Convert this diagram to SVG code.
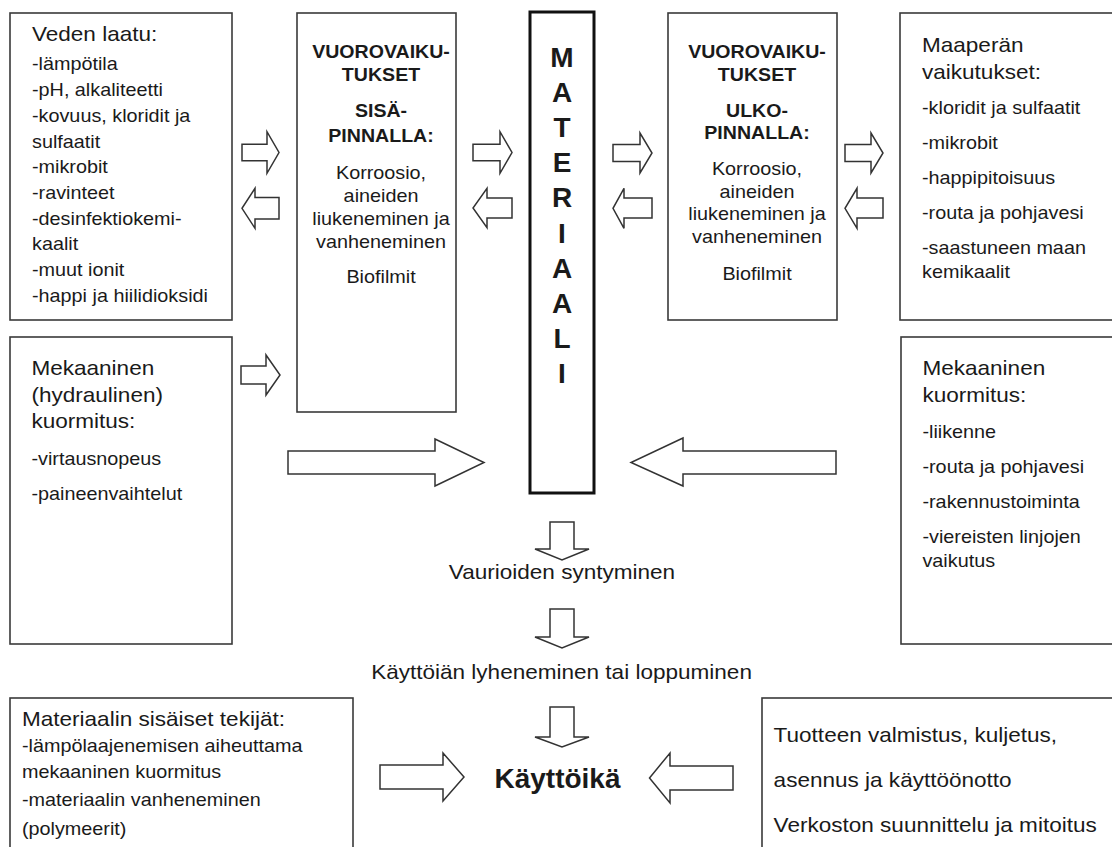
<svg xmlns="http://www.w3.org/2000/svg" width="1112" height="847" viewBox="0 0 1112 847">
<style>
.box{fill:#fff;stroke:#3a3a3a;stroke-width:1.6}
.mat{fill:#fff;stroke:#111;stroke-width:3}
.arr{fill:#fff;stroke:#333;stroke-width:1.5;stroke-linejoin:miter}
text{font-family:"Liberation Sans",Arial,sans-serif;fill:#1a1a1a}
.h{font-size:20.5px}
.l{font-size:18px}
.b{font-size:17.8px;font-weight:bold}
.c{text-anchor:middle}
.big{font-size:28px;font-weight:bold;text-anchor:middle}
</style>
<rect width="1112" height="847" fill="#fff"/>

<g id="veden-laatu">
<rect class="box" x="10" y="13" width="222" height="307"/>
<g transform="scale(1.1 1)">
<text class="h" x="29.1" y="41">Veden laatu:</text>
<text class="l" x="29.1" y="70.5">-lämpötila</text>
<text class="l" x="29.1" y="96.2">-pH, alkaliteetti</text>
<text class="l" x="29.1" y="121.9">-kovuus, kloridit ja</text>
<text class="l" x="29.1" y="147.6">sulfaatit</text>
<text class="l" x="29.1" y="173.3">-mikrobit</text>
<text class="l" x="29.1" y="199">-ravinteet</text>
<text class="l" x="29.1" y="224.7">-desinfektiokemi-</text>
<text class="l" x="29.1" y="250.4">kaalit</text>
<text class="l" x="29.1" y="276.1">-muut ionit</text>
<text class="l" x="29.1" y="301.8">-happi ja hiilidioksidi</text>
</g>
</g>

<g id="vuorovaikutukset-sisa">
<rect class="box" x="297" y="13" width="159" height="399"/>
<g transform="scale(1.1 1)">
<text class="b c" x="346.4" y="58">VUOROVAIKU-</text>
<text class="b c" x="346.4" y="81">TUKSET</text>
<text class="b c" x="346.4" y="117">SISÄ-</text>
<text class="b c" x="346.4" y="142">PINNALLA:</text>
<text class="l c" x="346.4" y="179">Korroosio,</text>
<text class="l c" x="346.4" y="202">aineiden</text>
<text class="l c" x="346.4" y="225">liukeneminen ja</text>
<text class="l c" x="346.4" y="248">vanheneminen</text>
<text class="l c" x="346.4" y="283">Biofilmit</text>
</g>
</g>

<g id="materiaali">
<rect class="mat" x="530" y="12" width="64" height="481"/>
<text class="big" x="562" y="67">M</text>
<text class="big" x="562" y="102">A</text>
<text class="big" x="562" y="137">T</text>
<text class="big" x="562" y="172">E</text>
<text class="big" x="562" y="207">R</text>
<text class="big" x="562" y="243">I</text>
<text class="big" x="562" y="278">A</text>
<text class="big" x="562" y="313">A</text>
<text class="big" x="562" y="348">L</text>
<text class="big" x="562" y="383">I</text>
</g>

<g id="vuorovaikutukset-ulko">
<rect class="box" x="668" y="13" width="169" height="307"/>
<g transform="scale(1.1 1)">
<text class="b c" x="688.2" y="58">VUOROVAIKU-</text>
<text class="b c" x="688.2" y="81">TUKSET</text>
<text class="b c" x="688.2" y="117">ULKO-</text>
<text class="b c" x="688.2" y="139">PINNALLA:</text>
<text class="l c" x="688.2" y="175">Korroosio,</text>
<text class="l c" x="688.2" y="198">aineiden</text>
<text class="l c" x="688.2" y="220">liukeneminen ja</text>
<text class="l c" x="688.2" y="243">vanheneminen</text>
<text class="l c" x="688.2" y="280">Biofilmit</text>
</g>
</g>

<g id="maaperan-vaikutukset">
<rect class="box" x="900" y="13" width="215" height="307"/>
<g transform="scale(1.1 1)">
<text class="h" x="838.2" y="52">Maaperän</text>
<text class="h" x="838.2" y="79">vaikutukset:</text>
<text class="l" x="838.2" y="114">-kloridit ja sulfaatit</text>
<text class="l" x="838.2" y="149">-mikrobit</text>
<text class="l" x="838.2" y="184">-happipitoisuus</text>
<text class="l" x="838.2" y="219">-routa ja pohjavesi</text>
<text class="l" x="838.2" y="254">-saastuneen maan</text>
<text class="l" x="838.2" y="278">kemikaalit</text>
</g>
</g>

<g id="mekaaninen-hydraulinen">
<rect class="box" x="10" y="337" width="222" height="307"/>
<g transform="scale(1.1 1)">
<text class="h" x="28.6" y="375">Mekaaninen</text>
<text class="h" x="28.6" y="402">(hydraulinen)</text>
<text class="h" x="28.6" y="428">kuormitus:</text>
<text class="l" x="28.6" y="465">-virtausnopeus</text>
<text class="l" x="28.6" y="500">-paineenvaihtelut</text>
</g>
</g>

<g id="mekaaninen-kuormitus">
<rect class="box" x="901" y="337" width="214" height="307"/>
<g transform="scale(1.1 1)">
<text class="h" x="838.6" y="375">Mekaaninen</text>
<text class="h" x="838.6" y="402">kuormitus:</text>
<text class="l" x="838.6" y="438">-liikenne</text>
<text class="l" x="838.6" y="473">-routa ja pohjavesi</text>
<text class="l" x="838.6" y="508">-rakennustoiminta</text>
<text class="l" x="838.6" y="543">-viereisten linjojen</text>
<text class="l" x="838.6" y="567">vaikutus</text>
</g>
</g>

<g id="vaurioiden-syntyminen">
<g transform="scale(1.1 1)">
<text class="h c" x="510.9" y="579">Vaurioiden syntyminen</text>
</g>
</g>

<g id="kayttoian-lyheneminen">
<g transform="scale(1.1 1)">
<text class="h c" x="510.5" y="679">Käyttöiän lyheneminen tai loppuminen</text>
</g>
</g>

<g id="materiaalin-sisaiset">
<rect class="box" x="10" y="698" width="343" height="160"/>
<g transform="scale(1.1 1)">
<text class="h" x="20" y="726">Materiaalin sisäiset tekijät:</text>
<text class="l" x="20" y="752">-lämpölaajenemisen aiheuttama</text>
<text class="l" x="20" y="778">mekaaninen kuormitus</text>
<text class="l" x="20" y="806">-materiaalin vanheneminen</text>
<text class="l" x="20" y="835">(polymeerit)</text>
</g>
</g>

<g id="kayttoika">
<text class="big" x="557.5" y="788">Käyttöikä</text>
</g>

<g id="tuotteen-valmistus">
<rect class="box" x="762" y="698" width="360" height="160"/>
<g transform="scale(1.1 1)">
<text class="h" x="703.3" y="742">Tuotteen valmistus, kuljetus,</text>
<text class="h" x="703.3" y="787">asennus ja käyttöönotto</text>
<text class="h" x="703.3" y="832">Verkoston suunnittelu ja mitoitus</text>
</g>
</g>

<g id="connectors">
<path class="arr" d="M242,144.2 L267,144.2 L267,131.7 L279,152.5 L267,173.3 L267,160.8 L242,160.8 Z"/>
<path class="arr" d="M279,197.5 L255,197.5 L255,188.3 L242,208.3 L255,228.3 L255,219.1 L279,219.1 Z"/>
<path class="arr" d="M473,144.2 L500,144.2 L500,131.7 L512,152.5 L500,173.3 L500,160.8 L473,160.8 Z"/>
<path class="arr" d="M512,198 L487,198 L487,188.3 L473,208 L487,227.7 L487,218 L512,218 Z"/>
<path class="arr" d="M613,144.5 L640,144.5 L640,133 L652,153 L640,173 L640,161.5 L613,161.5 Z"/>
<path class="arr" d="M652,198 L624,198 L624,188.3 L613,208.3 L624,228.3 L624,218 L652,218 Z"/>
<path class="arr" d="M845,144.5 L871,144.5 L871,133 L883,153 L871,173 L871,161.5 L845,161.5 Z"/>
<path class="arr" d="M883,198 L857,198 L857,188.3 L845,208.3 L857,228.3 L857,218 L883,218 Z"/>
<path class="arr" d="M241,366 L266,366 L266,355 L280,375 L266,395 L266,384 L241,384 Z"/>
<path class="arr" d="M288,451 L435,451 L435,439 L484,462.5 L435,486 L435,474 L288,474 Z"/>
<path class="arr" d="M836,451 L683,451 L683,438 L631,462.5 L683,486 L683,474 L836,474 Z"/>
<path class="arr" d="M550,522 L550,549 L535,549 L562,560 L589,549 L574,549 L574,522 Z"/>
<path class="arr" d="M550,609 L550,637 L535,637 L562,648 L589,637 L574,637 L574,609 Z"/>
<path class="arr" d="M550,707 L550,737 L535,737 L562,747 L589,737 L574,737 L574,707 Z"/>
<path class="arr" d="M380,765 L443,765 L443,753 L464,777 L443,801 L443,789 L380,789 Z"/>
<path class="arr" d="M733,766 L670,766 L670,753 L649.5,778 L670,803 L670,790 L733,790 Z"/>
</g>
</svg>
